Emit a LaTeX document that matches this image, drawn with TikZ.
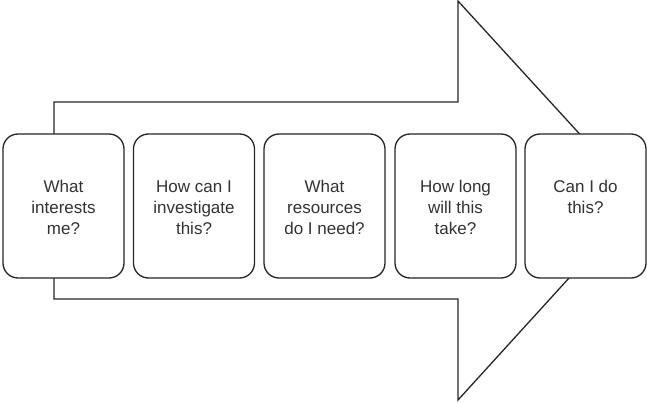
\documentclass[tikz,border=0pt]{standalone}
\usepackage{fontspec}
\setmainfont{Liberation Sans}
\begin{document}
\begin{tikzpicture}[x=1pt,y=1pt,
  line width=1.3pt,
  stepbox/.style={draw=black!85,fill=white,rounded corners=15pt,minimum width=121pt,minimum height=144pt,inner sep=0pt},
  steptext/.style={anchor=north,inner sep=0pt,align=center,text=black!80,font=\fontsize{17}{21}\selectfont}]
\useasboundingbox (0,0) rectangle (647,402);
% big arrow
\draw[draw=black!85,line join=miter] (54,300) -- (458,300) -- (458,401) -- (640,202) -- (458,2) -- (458,103) -- (54,103) -- cycle;
% boxes
\node[stepbox] (b1) at (63.5,196) {};
\node[stepbox] (b2) at (194,196) {};
\node[stepbox] (b3) at (324.5,196) {};
\node[stepbox] (b4) at (455.5,196) {};
\node[stepbox] (b5) at (585.5,196) {};
\node[steptext] (t1) at (63.5,222) {What\\interests\\me?};
\node[steptext] (t2) at (194,222) {How can I\\investigate\\this?};
\node[steptext] (t3) at (324.5,222) {What\\resources\\do I need?};
\node[steptext] (t4) at (455.5,222) {How long\\will this\\take?};
\node[steptext] (t5) at (585.5,222) {Can I do\\this?};
\end{tikzpicture}
\end{document}
